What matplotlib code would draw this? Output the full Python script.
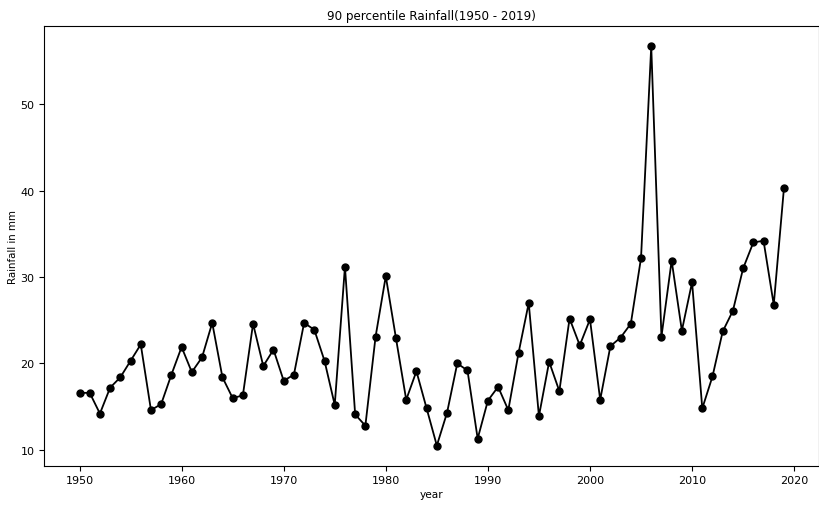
import matplotlib
matplotlib.use("Agg")
import matplotlib.pyplot as plt

years = list(range(1950, 2020))
rainfall = [16.6, 16.6, 14.2, 17.2, 18.4, 20.3, 22.2, 14.6, 15.3, 18.7,
            21.9, 19.0, 20.7, 24.7, 18.4, 16.0, 16.3, 24.6, 19.7, 21.6,
            18.0, 18.7, 24.7, 23.9, 20.3, 15.2, 31.2, 14.1, 12.8, 23.1,
            30.1, 22.9, 15.8, 19.1, 14.8, 10.5, 14.3, 20.0, 19.2, 11.3,
            15.7, 17.3, 14.6, 21.2, 27.0, 13.9, 20.2, 16.8, 25.2, 22.1,
            25.1, 15.8, 22.0, 23.0, 24.6, 32.2, 56.7, 23.1, 31.9, 23.8,
            29.4, 14.8, 18.5, 23.7, 26.1, 31.0, 34.0, 34.2, 26.8, 40.3]

fig = plt.figure(figsize=(8.2, 5.06), dpi=100)
ax = fig.add_axes([0.054, 0.078, 0.945, 0.868])
ax.plot(years, rainfall, color="black", marker="o", markersize=5, linewidth=1.3)
ax.set_title("90 percentile Rainfall(1950 - 2019)", fontsize=8.6, pad=5)
ax.set_xlabel("year", fontsize=7.6, labelpad=3)
ax.set_ylabel("Rainfall in mm", fontsize=7.4, labelpad=2)
ax.tick_params(labelsize=8)
fig.savefig("out.png", dpi=100)
